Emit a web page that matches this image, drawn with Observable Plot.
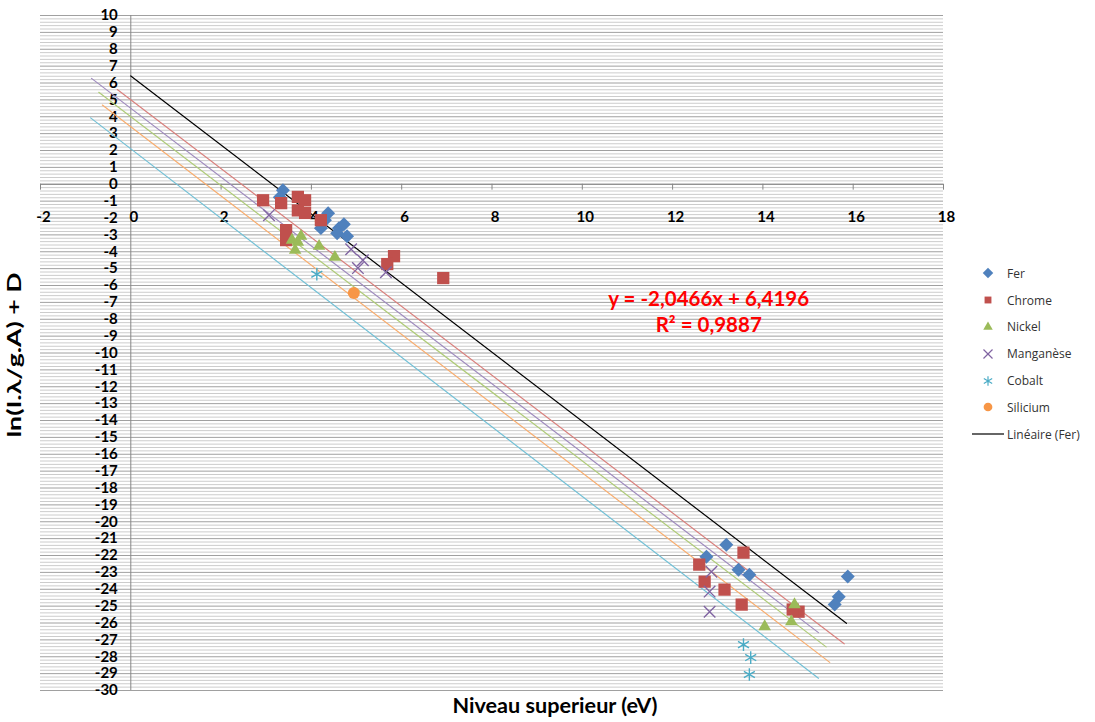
<!DOCTYPE html>
<html>
<head>
<meta charset="utf-8">
<script src="https://cdn.jsdelivr.net/npm/d3@7"></script>
<script src="https://cdn.jsdelivr.net/npm/@observablehq/plot@0.6"></script>
<style>
  html, body { margin: 0; padding: 0; background: #fff; }
  #wrap { position: relative; width: 1095px; height: 722px; }
  #legend { position: absolute; left: 972px; top: 260px; font-family: "Open Sans", "Lato", sans-serif; font-size: 12px; color: #333; }
  #legend .item { height: 26.8px; display: flex; align-items: center; }
  #legend svg { width: 32px; height: 14px; margin-right: 3px; }
</style>
</head>
<body>
<div id="wrap">
  <div id="chart"></div>
  <div id="legend"></div>
</div>
<script>
// ---------- data ----------
const series = ["Fer", "Chrome", "Nickel", "Manganèse", "Cobalt", "Silicium"];
const colors = ["#4F81BD", "#C0504D", "#9BBB59", "#8064A2", "#4BACC6", "#F79646"];
const symbols = ["diamond2", "square2", "triangle2", "times", "asterisk", "circle"];

const ferX = [3.37, 3.30, 4.37, 4.30, 4.21, 4.61, 4.72, 4.79, 4.57, 12.75, 13.19, 13.46, 13.70, 15.88, 15.68, 15.59];
const ferY = [-0.36, -0.77, -1.72, -2.13, -2.60, -2.60, -2.37, -3.08, -2.90, -22.07, -21.36, -22.84, -23.14, -23.25, -24.44, -24.91];

const chromeX = [2.93, 3.33, 3.70, 3.86, 3.70, 3.86, 4.21, 3.44, 3.44, 5.83, 5.68, 6.92, 13.57, 12.59, 12.71, 13.15, 13.53, 14.79, 14.66];
const chromeY = [-0.95, -1.12, -0.75, -0.95, -1.55, -1.70, -2.13, -2.72, -3.31, -4.26, -4.73, -5.56, -21.83, -22.54, -23.55, -24.02, -24.91, -25.33, -25.20];

const nickelX = [3.57, 3.70, 3.64, 3.77, 4.17, 4.52, 14.70, 14.04, 14.63];
const nickelY = [-3.31, -3.43, -3.91, -3.08, -3.67, -4.32, -24.91, -26.21, -25.92];

const manganeseX = [3.06, 4.88, 5.14, 5.03, 5.65, 12.86, 12.82, 12.82];
const manganeseY = [-1.83, -3.85, -4.50, -4.97, -5.21, -22.96, -24.14, -25.33];

const cobaltX = [4.12, 13.57, 13.73, 13.70];
const cobaltY = [-5.33, -27.28, -28.05, -29.05];

const siliciumX = [4.94];
const siliciumY = [-6.45];

// linear trend lines (slope, intercept, x range)
const trendSeries = ["Chrome", "Manganèse", "Nickel", "Silicium", "Cobalt", "Fer"];
const trendColors = ["#D9807D", "#9F8BBE", "#AFCB78", "#F8AD6E", "#72C0D6", "#000000"];
const trendSlope = [-2.04, -2.04, -2.04, -2.05, -2.06, -2.0466];
const trendIntercept = [5.0, 4.5, 4.0, 3.4, 2.1, 6.4196];
const trendX0 = [-0.30, -0.87, -0.71, -0.63, -0.89, 0];
const trendX1 = [15.80, 15.23, 15.40, 15.48, 15.23, 15.85];

const xTicks = [-2, 0, 2, 4, 6, 8, 10, 12, 14, 16, 18];
const yTicks = d3.range(-30, 11, 1);
const yMinor = d3.range(-30, 10.001, 0.2).map(v => Math.round(v * 10) / 10).filter(v => Math.abs(v - Math.round(v)) > 1e-6);

const eqLines = ["y = -2,0466x + 6,4196", "R² = 0,9887"];
const eqX = [12.8, 12.8];
const eqY = [-6.8, -8.35];

const xTitle = "Niveau superieur (eV)";
const yTitle = "ln(I.λ/g.A) + D";

// ---------- build tables ----------
const allX = [ferX, chromeX, nickelX, manganeseX, cobaltX, siliciumX];
const allY = [ferY, chromeY, nickelY, manganeseY, cobaltY, siliciumY];
const points = [];
series.forEach((s, i) => allX[i].forEach((x, j) => points.push({series: s, x, y: allY[i][j]})));

const trendPts = [];
trendSeries.forEach((s, i) => {
  [trendX0[i], trendX1[i]].forEach(x => trendPts.push({series: s, x, y: trendSlope[i] * x + trendIntercept[i], color: trendColors[i]}));
});

const sizes = {Fer: 6.3, Chrome: 7.8, Nickel: 6.0, "Manganèse": 5.3, Cobalt: 6.0, Silicium: 6.0};

const dotMarks = series.map((s, i) => {
  const stroked = symbols[i] === "times" || symbols[i] === "asterisk";
  return Plot.dot(points.filter(p => p.series === s), {
    x: "x", y: "y", symbol: () => symbols[i], r: sizes[s],
    fill: stroked ? "none" : colors[i],
    stroke: stroked ? colors[i] : "none",
    strokeWidth: stroked ? 1.4 : 0
  });
});

const tickFont = {fontSize: 15, fontWeight: "bold", fill: "#000"};

const chart = Plot.plot({
  width: 1095,
  height: 722,
  marginLeft: 40,
  marginRight: 152,
  marginTop: 15,
  marginBottom: 32,
  x: {domain: [-2, 18], axis: null},
  y: {domain: [-30, 10], axis: null},
  symbol: {range: symbols, domain: symbols},
  style: {fontFamily: "Lato, 'Open Sans', sans-serif", background: "#fff", overflow: "visible"},
  marks: [
    Plot.ruleY(yMinor, {stroke: "#cccccc", strokeWidth: 1}),
    Plot.ruleY(yTicks, {stroke: "#a0a0a0", strokeWidth: 1}),
    Plot.ruleX([0], {stroke: "#868686", strokeWidth: 1}),
    Plot.ruleY([0], {stroke: "#868686", strokeWidth: 1}),
    Plot.ruleX(xTicks, {x: d => d, y1: 0, y2: -0.35, stroke: "#868686"}),
    Plot.text(yTicks, {x: 0, y: d => d, text: d => String(d), textAnchor: "end", dx: -13, ...tickFont}),
    Plot.text(xTicks, {x: d => d, y: 0, text: d => String(d), dx: 3, dy: 33, ...tickFont}),
    Plot.line(trendPts, {x: "x", y: "y", z: "series", stroke: "color", strokeWidth: 1.2}),
    ...dotMarks,
    Plot.text(eqLines, {x: (d, i) => eqX[i], y: (d, i) => eqY[i], text: d => d, fill: "#FF0000", fontSize: 20.5, fontWeight: "bold"})
  ]
});
document.getElementById("chart").appendChild(chart);

// axis titles
const svg = d3.select(chart);
svg.append("text")
  .attr("transform", "translate(16,355) rotate(-90)")
  .attr("text-anchor", "middle").attr("dominant-baseline", "middle")
  .attr("font-family", "Lato, 'Open Sans', sans-serif").attr("font-weight", "bold").attr("font-size", 18)
  .attr("textLength", 165).attr("lengthAdjust", "spacingAndGlyphs")
  .text(yTitle);
svg.append("text")
  .attr("x", 555).attr("y", 708)
  .attr("text-anchor", "middle").attr("dominant-baseline", "middle")
  .attr("font-family", "Lato, 'Open Sans', sans-serif").attr("font-weight", "bold").attr("font-size", 20)
  .attr("textLength", 205).attr("lengthAdjust", "spacingAndGlyphs")
  .text(xTitle);

// ---------- legend ----------
const legend = document.getElementById("legend");
const symPath = (name, size) => d3.symbol(d3["symbol" + {diamond2: "Diamond2", square2: "Square2", triangle2: "Triangle2", times: "Times", asterisk: "Asterisk", circle: "Circle"}[name]], size)();
series.forEach((s, i) => {
  const stroked = symbols[i] === "times" || symbols[i] === "asterisk";
  const item = document.createElement("div");
  item.className = "item";
  const sz = {diamond2: 70, square2: 60, triangle2: 65, times: 55, asterisk: 65, circle: 60}[symbols[i]];
  item.innerHTML = `<svg viewBox="-16 -7 32 14"><path d="${symPath(symbols[i], sz)}" fill="${stroked ? "none" : colors[i]}" stroke="${stroked ? colors[i] : "none"}" stroke-width="1.2"></path></svg><span>${s}</span>`;
  legend.appendChild(item);
});
const lin = document.createElement("div");
lin.className = "item";
lin.innerHTML = `<svg viewBox="-16 -7 32 14"><line x1="-16" x2="16" y1="0" y2="0" stroke="#000" stroke-width="1.2"></line></svg><span>Linéaire (Fer)</span>`;
legend.appendChild(lin);
</script>
</body>
</html>
